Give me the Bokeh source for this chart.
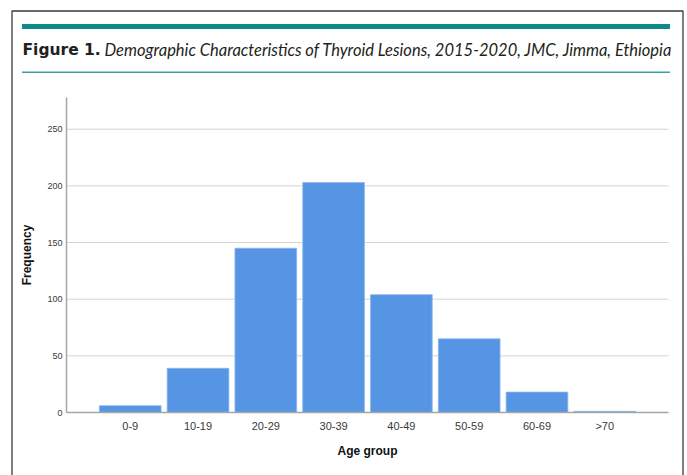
from bokeh.plotting import figure
from bokeh.models import Range1d, FixedTicker, Label, BoxAnnotation, ColumnDataSource, LinearAxis
from bokeh.embed import file_html
from bokeh.resources import INLINE

# Data
age_groups = ["0-9", "10-19", "20-29", "30-39", "40-49", "50-59", "60-69", ">70"]
frequency = [6, 39, 145, 203, 104, 65, 18, 1]
y_ticks = [0, 50, 100, 150, 200, 250]
y_max = 278

title_bold = "Figure 1."
title_italic = "Demographic Characteristics of Thyroid Lesions, 2015-2020, JMC, Jimma, Ethiopia"

W, H = 687, 475

# layout geometry (page pixels)
AX_L, AX_R, AX_T, AX_B = 66, 668, 97, 412
n = len(age_groups)
pad = 0.94                       # category units of padding each side of the bars
pitch = (AX_R - AX_L) / (n - 1 + 2 * pad)   # pixels per category
ypx = (AX_B - AX_T) / y_max                 # pixels per frequency unit

x_start = -pad - AX_L / pitch
x_end = x_start + W / pitch
y_start = -(H - AX_B) / ypx
y_end = y_max + AX_T / ypx

idx = list(range(n))
src = ColumnDataSource(dict(x=idx, freq=frequency, label=age_groups))

p = figure(
    width=W, height=H,
    x_range=Range1d(x_start, x_end), y_range=Range1d(y_start, y_end),
    output_backend="svg", toolbar_location=None,
    min_border=0, min_border_left=0, min_border_right=0, min_border_top=0, min_border_bottom=0,
    x_axis_location=None, y_axis_location=None,
)
p.outline_line_color = None
p.background_fill_color = "white"
p.border_fill_color = "white"
p.xgrid.visible = False
p.ygrid.visible = False

# grid lines (behind bars)
grid_vals = y_ticks[1:]
p.segment(x0=[-pad] * len(grid_vals), x1=[n - 1 + pad] * len(grid_vals), y0=grid_vals, y1=grid_vals,
          line_color="#d4d4d4", line_width=1)

p.vbar(x="x", top="freq", width=0.91, source=src,
       fill_color="#5695e4", line_color="#8ab6ec", line_width=0.8)

# axes at fixed locations
xaxis = LinearAxis(fixed_location=0, bounds=(-pad, n - 1 + pad),
                   ticker=FixedTicker(ticks=idx),
                   major_label_overrides={i: lab for i, lab in zip(idx, age_groups)},
                   axis_label="Age group")
yaxis = LinearAxis(fixed_location=-pad, bounds=(0, y_max),
                   ticker=FixedTicker(ticks=y_ticks), axis_label="Frequency")
for ax in (xaxis, yaxis):
    ax.major_tick_in = 0
    ax.major_tick_out = 0
    ax.minor_tick_in = 0
    ax.minor_tick_out = 0
    ax.axis_line_color = "#a6a6a6"
    ax.axis_line_width = 1.5
    ax.major_label_text_font = "Liberation Sans"
    ax.major_label_text_color = "#3a3a3a"
    ax.axis_label_text_font = "Liberation Sans"
    ax.axis_label_text_font_style = "bold"
    ax.axis_label_text_color = "#111111"
    ax.axis_label_text_font_size = "12px"
xaxis.major_label_text_font_size = "11px"
xaxis.major_label_standoff = 7
xaxis.axis_label_standoff = 9
yaxis.major_label_text_font_size = "9px"
yaxis.major_label_standoff = 4
yaxis.axis_label_standoff = 10
p.add_layout(xaxis, "below")
p.add_layout(yaxis, "left")

U = dict(left_units="canvas", right_units="canvas", top_units="canvas", bottom_units="canvas")

# decorations (canvas pixels, y down)
p.add_layout(BoxAnnotation(left=11.5, right=682.5, top=10.5, bottom=H + 40,
                           fill_alpha=0, line_color="#3a3a3a", line_alpha=1, line_width=1.3,
                           level="overlay", **U))
p.add_layout(BoxAnnotation(left=21.5, right=669.5, top=23.5, bottom=28.5,
                           fill_color="#0f8a8b", fill_alpha=1, line_color=None, level="overlay", **U))
p.add_layout(BoxAnnotation(left=21.5, right=669.5, top=71, bottom=72.5,
                           fill_color="#35a3a4", fill_alpha=1, line_color=None, level="overlay", **U))

p.add_layout(Label(x=22, y=49, x_units="canvas", y_units="canvas", text=title_bold,
                   text_font="DejaVu Sans", text_font_style="bold", text_font_size="15.5px",
                   text_color="#231f20", text_baseline="alphabetic"))
p.add_layout(Label(x=104, y=49, x_units="canvas", y_units="canvas", text=title_italic,
                   text_font="Lato", text_font_style="italic", text_font_size="16.5px",
                   text_color="#231f20", text_baseline="alphabetic"))

open("out.html", "w").write(file_html(p, INLINE))
